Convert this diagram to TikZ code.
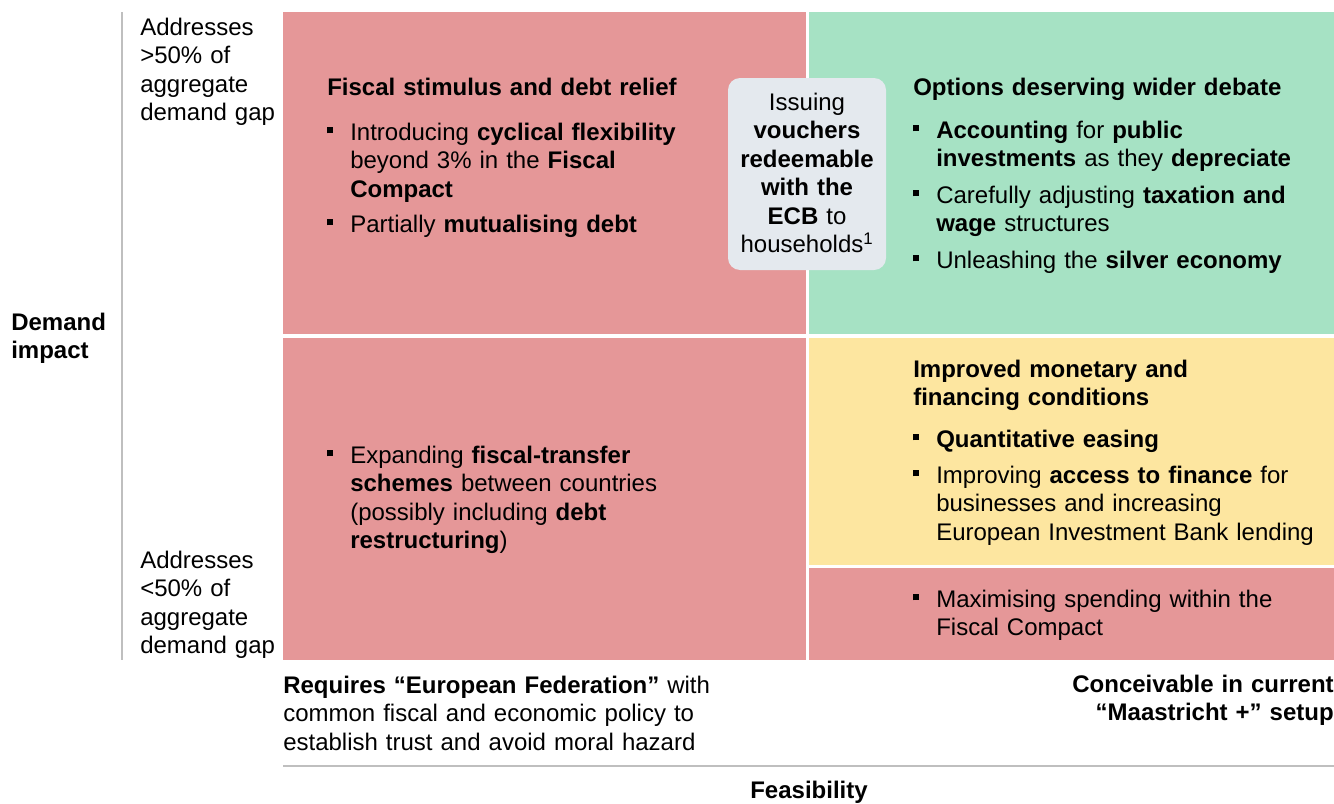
\documentclass[tikz,border=0pt]{standalone}
\usepackage{fontspec}
\setmainfont{Liberation Sans}
\definecolor{cred}{RGB}{229,151,152}
\definecolor{cgreen}{RGB}{166,226,196}
\definecolor{cyellow}{RGB}{253,230,160}
\definecolor{cvoucher}{RGB}{228,233,238}
\definecolor{cline}{RGB}{191,191,191}
\newcommand{\bsq}{\makebox[17.25pt][l]{\raisebox{5pt}{\rule{4.4pt}{4.4pt}}}}
\tikzset{
  txt/.style={anchor=base west, inner sep=0pt, text width=14cm, align=left,
    font=\fontsize{18pt}{21.4pt}\selectfont},
  bul/.style={anchor=base west, inner sep=0pt, text width=14cm,
    font=\fontsize{18pt}{21.4pt}\selectfont,
    execute at begin node={\raggedright\hangindent=17.25pt\hangafter=1\noindent\bsq}},
  rule/.style={draw=cline, line width=1.5pt},
}
\begin{document}
\begin{tikzpicture}[x=0.75pt,y=-0.75pt]
\useasboundingbox (0,0) rectangle (1334,803);
% cells
\fill[cred] (283,12) rectangle (806,334);
\fill[cgreen] (809,12) rectangle (1334,334);
\fill[cred] (283,338) rectangle (806,660);
\fill[cyellow] (809,338) rectangle (1334,565);
\fill[cred] (809,568) rectangle (1334,660);
% axes rules
\draw[rule] (122,12) -- (122,660);
\draw[rule] (283,766) -- (1334,766);
% voucher box
\node[fill=cvoucher, rounded corners=9pt, minimum width=118.5pt, minimum height=144pt, inner sep=0pt] (vbox) at (807,174) {};
\node[anchor=base, inner sep=0pt, text width=115pt, align=center, font=\fontsize{18pt}{21.4pt}\selectfont] (vtext) at (807,110)
  {Issuing\\\textbf{vouchers}\\\textbf{redeemable}\\\textbf{with the}\\\textbf{ECB} to\\households\textsuperscript{1}};
% top-left
\node[txt] (h1) at (327,95) {\textbf{Fiscal stimulus and debt relief}};
\node[bul] (b11) at (327,140) {Introducing \textbf{cyclical flexibility}\newline beyond 3\% in the \textbf{Fiscal}\newline \textbf{Compact}};
\node[bul] (b12) at (327,232) {Partially \textbf{mutualising debt}};
% top-right
\node[txt] (h2) at (913,95) {\textbf{Options deserving wider debate}};
\node[bul] (b21) at (913,138) {\textbf{Accounting} for \textbf{public}\newline \textbf{investments} as they \textbf{depreciate}};
\node[bul] (b22) at (913,203) {Carefully adjusting \textbf{taxation and}\newline \textbf{wage} structures};
\node[bul] (b23) at (913,268) {Unleashing the \textbf{silver economy}};
% bottom-left
\node[bul] (b31) at (327,463) {Expanding \textbf{fiscal-transfer}\newline \textbf{schemes} between countries\newline (possibly including \textbf{debt}\newline \textbf{restructuring})};
% yellow
\node[txt] (h4) at (913,377) {\textbf{Improved monetary and}\\\textbf{financing conditions}};
\node[bul] (b41) at (913,447) {\textbf{Quantitative easing}};
\node[bul] (b42) at (913,483) {Improving \textbf{access to finance} for\newline businesses and increasing\newline European Investment Bank lending};
% bottom-right red
\node[bul] (b51) at (913,607) {Maximising spending within the\newline Fiscal Compact};
% left labels
\node[txt] (ltop) at (140,35) {Addresses\\>50\% of\\aggregate\\demand gap};
\node[txt] (lbot) at (140,568) {Addresses\\<50\% of\\aggregate\\demand gap};
\node[txt] (ldem) at (11,330) {\textbf{Demand}\\\textbf{impact}};
% bottom labels
\node[txt] (xleft) at (283,693) {\textbf{Requires “European Federation”} with\\common fiscal and economic policy to\\establish trust and avoid moral hazard};
\node[anchor=base east, inner sep=0pt, text width=10cm, align=right, font=\fontsize{18pt}{21.4pt}\selectfont] (xright) at (1334,692) {\textbf{Conceivable in current}\\\textbf{“Maastricht +” setup}};
\node[anchor=base, inner sep=0pt, font=\fontsize{18pt}{21.4pt}\selectfont] (xfeas) at (809,798) {\textbf{Feasibility}};
\end{tikzpicture}
\end{document}
